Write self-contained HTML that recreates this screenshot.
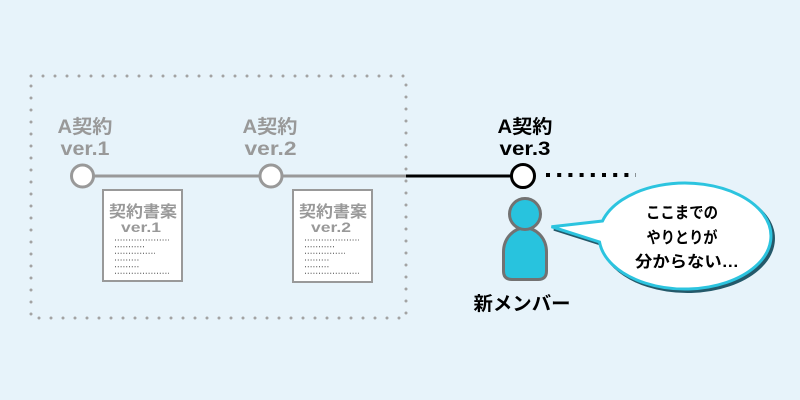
<!DOCTYPE html>
<html><head><meta charset="utf-8"><style>
html,body{margin:0;padding:0;background:#e7f3fa;}
svg{display:block;}
text{font-family:"Liberation Sans","Noto Sans CJK JP",sans-serif;font-weight:bold;}
</style></head><body>
<svg width="800" height="400" viewBox="0 0 800 400" xmlns="http://www.w3.org/2000/svg">
<rect width="800" height="400" fill="#e7f3fa"/>
<!-- dotted frame -->
<rect x="31" y="76" width="375" height="242" fill="none" stroke="#a3a3a3" stroke-width="3" stroke-linecap="round" stroke-dasharray="0 12"/>
<!-- lines -->
<line x1="82" y1="176" x2="406" y2="176" stroke="#999" stroke-width="3"/>
<line x1="406" y1="176" x2="523" y2="176" stroke="#000" stroke-width="3"/>
<line x1="546" y1="175" x2="636" y2="175" stroke="#000" stroke-width="4" stroke-dasharray="4 7.2"/>
<!-- circles -->
<circle cx="82.5" cy="176" r="11" fill="#fff" stroke="#999" stroke-width="3"/>
<circle cx="271" cy="176" r="11" fill="#fff" stroke="#999" stroke-width="3"/>
<circle cx="523" cy="176" r="11.5" fill="#fff" stroke="#000" stroke-width="3"/>
<!-- labels -->
<g fill="#999" font-size="19" text-anchor="middle">
<text x="85" y="133" textLength="55" lengthAdjust="spacingAndGlyphs">A契約</text>
<text x="85" y="155" textLength="49" lengthAdjust="spacingAndGlyphs">ver.1</text>
<text x="270" y="133" textLength="55" lengthAdjust="spacingAndGlyphs">A契約</text>
<text x="270.5" y="155" textLength="52" lengthAdjust="spacingAndGlyphs">ver.2</text>
</g>
<g fill="#000" font-size="19" text-anchor="middle">
<text x="525" y="133" textLength="55" lengthAdjust="spacingAndGlyphs">A契約</text>
<text x="525" y="155" textLength="51" lengthAdjust="spacingAndGlyphs">ver.3</text>
</g>
<!-- doc 1 -->
<rect x="103" y="190" width="79" height="91" fill="#fff" stroke="#999" stroke-width="2"/>
<g fill="#999" text-anchor="middle">
<text x="143" y="217" font-size="16" textLength="68" lengthAdjust="spacingAndGlyphs">契約書案</text>
<text x="141" y="232" font-size="14" textLength="40" lengthAdjust="spacingAndGlyphs">ver.1</text>
</g>
<g stroke="#444" stroke-width="1" stroke-dasharray="1 1.8">
<line x1="115" y1="240" x2="169" y2="240"/>
<line x1="115" y1="246.7" x2="145" y2="246.7"/>
<line x1="115" y1="253.3" x2="155" y2="253.3"/>
<line x1="115" y1="260" x2="139" y2="260"/>
<line x1="115" y1="266.7" x2="139" y2="266.7"/>
<line x1="115" y1="273.3" x2="169" y2="273.3"/>
</g>
<!-- doc 2 -->
<rect x="293" y="190" width="79" height="92" fill="#fff" stroke="#999" stroke-width="2"/>
<g fill="#999" text-anchor="middle">
<text x="333" y="217" font-size="16" textLength="68" lengthAdjust="spacingAndGlyphs">契約書案</text>
<text x="331" y="232" font-size="14" textLength="40" lengthAdjust="spacingAndGlyphs">ver.2</text>
</g>
<g stroke="#444" stroke-width="1" stroke-dasharray="1 1.8">
<line x1="305" y1="240" x2="359" y2="240"/>
<line x1="305" y1="246.7" x2="335" y2="246.7"/>
<line x1="305" y1="253.3" x2="345" y2="253.3"/>
<line x1="305" y1="260" x2="329" y2="260"/>
<line x1="305" y1="266.7" x2="329" y2="266.7"/>
<line x1="305" y1="273.3" x2="359" y2="273.3"/>
</g>
<!-- person -->
<path d="M503.5,271 L503.5,252 A21.5,24 0 0 1 546.5,252 L546.5,271 Q546.5,279.5 538,279.5 L512,279.5 Q503.5,279.5 503.5,271 Z" fill="#28c3de" stroke="#727272" stroke-width="3"/>
<circle cx="525" cy="214" r="15.5" fill="#28c3de" stroke="#727272" stroke-width="3"/>
<text x="522" y="310" font-size="19" text-anchor="middle" fill="#000" textLength="97" lengthAdjust="spacingAndGlyphs">新メンバー</text>
<!-- bubble -->
<path d="M602.5,221 L551.5,226.7 L599.5,242 A86,53 0 1 0 602.5,221 Z" transform="translate(2.5,2.5)" fill="#24596a" stroke="#24596a" stroke-width="3" stroke-linejoin="miter"/>
<path d="M602.5,221 L551.5,226.7 L599.5,242 A86,53 0 1 0 602.5,221 Z" fill="#fff" stroke="#2cc4df" stroke-width="3" stroke-linejoin="miter"/>
<g fill="#000" font-size="16" text-anchor="middle">
<text x="682" y="218" textLength="72" lengthAdjust="spacingAndGlyphs">ここまでの</text>
<text x="682" y="243" textLength="71" lengthAdjust="spacingAndGlyphs">やりとりが</text>
<text x="687" y="267" textLength="104" lengthAdjust="spacingAndGlyphs">分からない…</text>
</g>
</svg>
</body></html>
